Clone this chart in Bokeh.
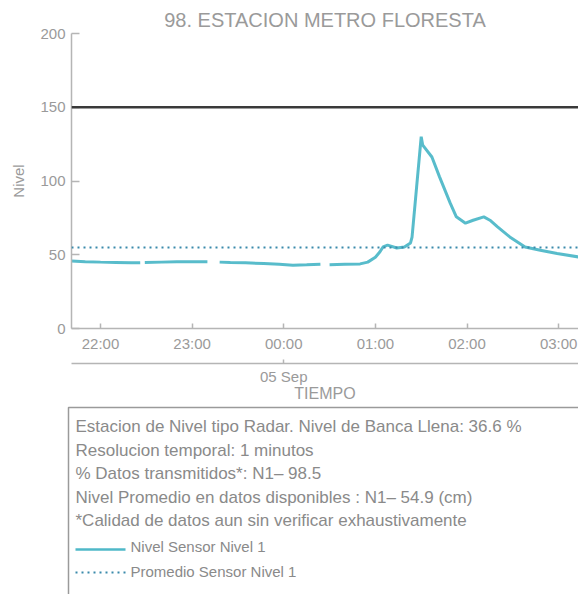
import numpy as np
import pandas as pd
from bokeh.plotting import figure
from bokeh.models import (DatetimeAxis, FixedTicker, DatetimeTickFormatter, Span,
                          Range1d, ColumnDataSource)
from bokeh.layouts import column
from bokeh.embed import file_html
from bokeh.resources import INLINE
from bokeh.core.properties import value

# ---------------- data ----------------
times = [
    "2023-09-04 21:41", "2023-09-04 21:50", "2023-09-04 22:00", "2023-09-04 22:10",
    "2023-09-04 22:20", "2023-09-04 22:26", "2023-09-04 22:27", "2023-09-04 22:29",
    "2023-09-04 22:40", "2023-09-04 22:50", "2023-09-04 23:00", "2023-09-04 23:10",
    "2023-09-04 23:11", "2023-09-04 23:18", "2023-09-04 23:25", "2023-09-04 23:35",
    "2023-09-04 23:47", "2023-09-04 23:57", "2023-09-05 00:06", "2023-09-05 00:15",
    "2023-09-05 00:24", "2023-09-05 00:25", "2023-09-05 00:30", "2023-09-05 00:40",
    "2023-09-05 00:50", "2023-09-05 00:55", "2023-09-05 01:00", "2023-09-05 01:03",
    "2023-09-05 01:05", "2023-09-05 01:08", "2023-09-05 01:14", "2023-09-05 01:19",
    "2023-09-05 01:23", "2023-09-05 01:24", "2023-09-05 01:27", "2023-09-05 01:30",
    "2023-09-05 01:31", "2023-09-05 01:37", "2023-09-05 01:42", "2023-09-05 01:49",
    "2023-09-05 01:53", "2023-09-05 01:59", "2023-09-05 02:04", "2023-09-05 02:11",
    "2023-09-05 02:15", "2023-09-05 02:20", "2023-09-05 02:28", "2023-09-05 02:38",
    "2023-09-05 02:48", "2023-09-05 02:59", "2023-09-05 03:13",
]
levels = [
    45.8, 45.3, 45.0, 44.8,
    44.5, 44.6, None, 44.8,
    45.0, 45.2, 45.3, 45.2,
    None, 45.0, 44.7, 44.5,
    44.1, 43.5, 42.9, 43.2,
    43.6, None, 43.3, 43.6,
    43.8, 45.0, 48.3, 52.0,
    55.3, 56.5, 54.6, 55.2,
    58.0, 62.0, 96.0, 130.0,
    124.3, 116.3, 102.8, 85.0,
    75.7, 71.4, 73.4, 75.7,
    73.4, 68.9, 62.1, 55.3,
    53.1, 50.8, 48.5,
]
mean_level = 54.9
threshold_level = 150
banca_llena_pct = 36.6
transmitted_pct = 98.5
resolution_min = 1

x_start = "2023-09-04 21:41"
x_end = "2023-09-05 03:13"
hour_ticks = ["2023-09-04 22:00", "2023-09-04 23:00", "2023-09-05 00:00",
              "2023-09-05 01:00", "2023-09-05 02:00", "2023-09-05 03:00"]
day_ticks = ["2023-09-05 00:00"]
y_ticks = [0, 50, 100, 150, 200]

title_text = "98. ESTACION METRO FLORESTA"
info_lines = [
    f"Estacion de Nivel tipo Radar. Nivel de Banca Llena: {banca_llena_pct} %",
    f"Resolucion temporal: {resolution_min} minutos",
    f"% Datos transmitidos*: N1\u2013 {transmitted_pct}",
    f"Nivel Promedio en datos disponibles : N1\u2013 {mean_level} (cm)",
    "*Calidad de datos aun sin verificar exhaustivamente",
]
legend_labels = ["Nivel Sensor Nivel 1", "Promedio Sensor Nivel 1"]

# ---------------- style ----------------
FONT = "Liberation Sans"
GRAY_TXT = "#9a9a9a"
AXIS_C = "#b5b5b5"
LINE_C = "#4fb8c8"
MEAN_C = "#3a8aab"
W = 578
H1 = 404
H2 = 594 - H1


def ms(s):
    return pd.Timestamp(s).value / 1e6


def style_axis(ax, tick_in):
    ax.major_label_text_font = FONT
    ax.major_label_text_font_size = "15px"
    ax.major_label_text_color = GRAY_TXT
    ax.major_tick_in = tick_in
    ax.major_tick_out = 0
    ax.minor_tick_in = 0
    ax.minor_tick_out = 0
    ax.axis_line_color = AXIS_C
    ax.axis_line_width = 1.5
    ax.major_tick_line_color = AXIS_C
    ax.major_tick_line_width = 1.5
    ax.axis_label_text_font = FONT
    ax.axis_label_text_font_style = "normal"
    ax.axis_label_text_color = GRAY_TXT


t = pd.to_datetime(times)
y = np.array([np.nan if v is None else v for v in levels], dtype=float)
src = ColumnDataSource(dict(t=t, y=y))

p = figure(width=W, height=H1, output_backend="svg", toolbar_location=None,
           x_axis_type="datetime",
           x_range=Range1d(pd.Timestamp(x_start), pd.Timestamp(x_end)),
           y_range=Range1d(0, 200),
           min_border_left=71, min_border_right=0, min_border_top=33,
           min_border_bottom=76)
p.frame_align = False
p.outline_line_color = None
p.grid.visible = False

p.title.text = title_text
p.title.align = "center"
p.title.text_font = FONT
p.title.text_font_size = "20px"
p.title.text_font_style = "normal"
p.title.text_color = GRAY_TXT
p.title.standoff = 6

# y axis
ya = p.yaxis[0]
style_axis(ya, 8)
ya.ticker = FixedTicker(ticks=y_ticks)
ya.axis_label = "Nivel"
ya.axis_label_text_font_size = "15px"
ya.axis_label_standoff = 10
ya.major_label_standoff = 6

# first x axis (hours)
fmt_h = DatetimeTickFormatter(microseconds="%H:%M", milliseconds="%H:%M", seconds="%H:%M",
                              minsec="%H:%M", minutes="%H:%M", hourmin="%H:%M",
                              hours="%H:%M", days="%H:%M", months="%H:%M", years="%H:%M")
xa = p.xaxis[0]
style_axis(xa, 5)
xa.ticker = FixedTicker(ticks=[ms(s) for s in hour_ticks])
xa.formatter = fmt_h
xa.major_label_standoff = 6
xa.axis_label = " "
xa.axis_label_text_font_size = "5px"
xa.axis_label_standoff = 0

# second x axis (day)
fmt_d = DatetimeTickFormatter(microseconds="%d %b", milliseconds="%d %b", seconds="%d %b",
                              minsec="%d %b", minutes="%d %b", hourmin="%d %b",
                              hours="%d %b", days="%d %b", months="%d %b", years="%d %b")
xa2 = DatetimeAxis(ticker=FixedTicker(ticks=[ms(s) for s in day_ticks]), formatter=fmt_d)
style_axis(xa2, 4)
xa2.axis_label = "TIEMPO"
xa2.axis_label_text_font_size = "16px"
xa2.axis_label_standoff = -3
xa2.major_label_standoff = 4
p.add_layout(xa2, "below")

# threshold & mean
p.add_layout(Span(location=threshold_level, dimension="width", line_color="#3a3a3a",
                  line_width=2.5))
p.add_layout(Span(location=mean_level, dimension="width", line_color=MEAN_C,
                  line_width=2, line_dash="2 4"))
p.line("t", "y", source=src, line_color=LINE_C, line_width=3, line_alpha=0.95)

# ---------------- info box figure ----------------
p2 = figure(width=W, height=H2, output_backend="svg", toolbar_location=None,
            x_range=Range1d(0, W), y_range=Range1d(H1 + H2, H1),
            x_axis_location=None, y_axis_location=None, min_border=0)
p2.frame_align = False
p2.outline_line_color = None
p2.grid.visible = False
p2.quad(left=[68], right=[640], top=[407], bottom=[660], fill_color=None,
        line_color="#9a9a9a", line_width=1.5)
line_ys = [426, 449.5, 473, 496.5, 520]
p2.text(x=[75] * len(info_lines), y=line_ys, text=info_lines,
        text_font=value(FONT), text_font_size="17px", text_color="#8a8a8a",
        text_baseline="middle", text_align="left")
p2.line(x=[75, 125], y=[549, 549], line_color=LINE_C, line_width=2.5)
p2.line(x=[75, 125], y=[572, 572], line_color=MEAN_C, line_width=2, line_dash="2 4")
p2.text(x=[130, 130], y=[546, 571], text=legend_labels,
        text_font=value(FONT), text_font_size="15px", text_color="#8a8a8a",
        text_baseline="middle", text_align="left")

layout = column(p, p2, spacing=0)
open("out.html", "w").write(file_html(layout, INLINE))
